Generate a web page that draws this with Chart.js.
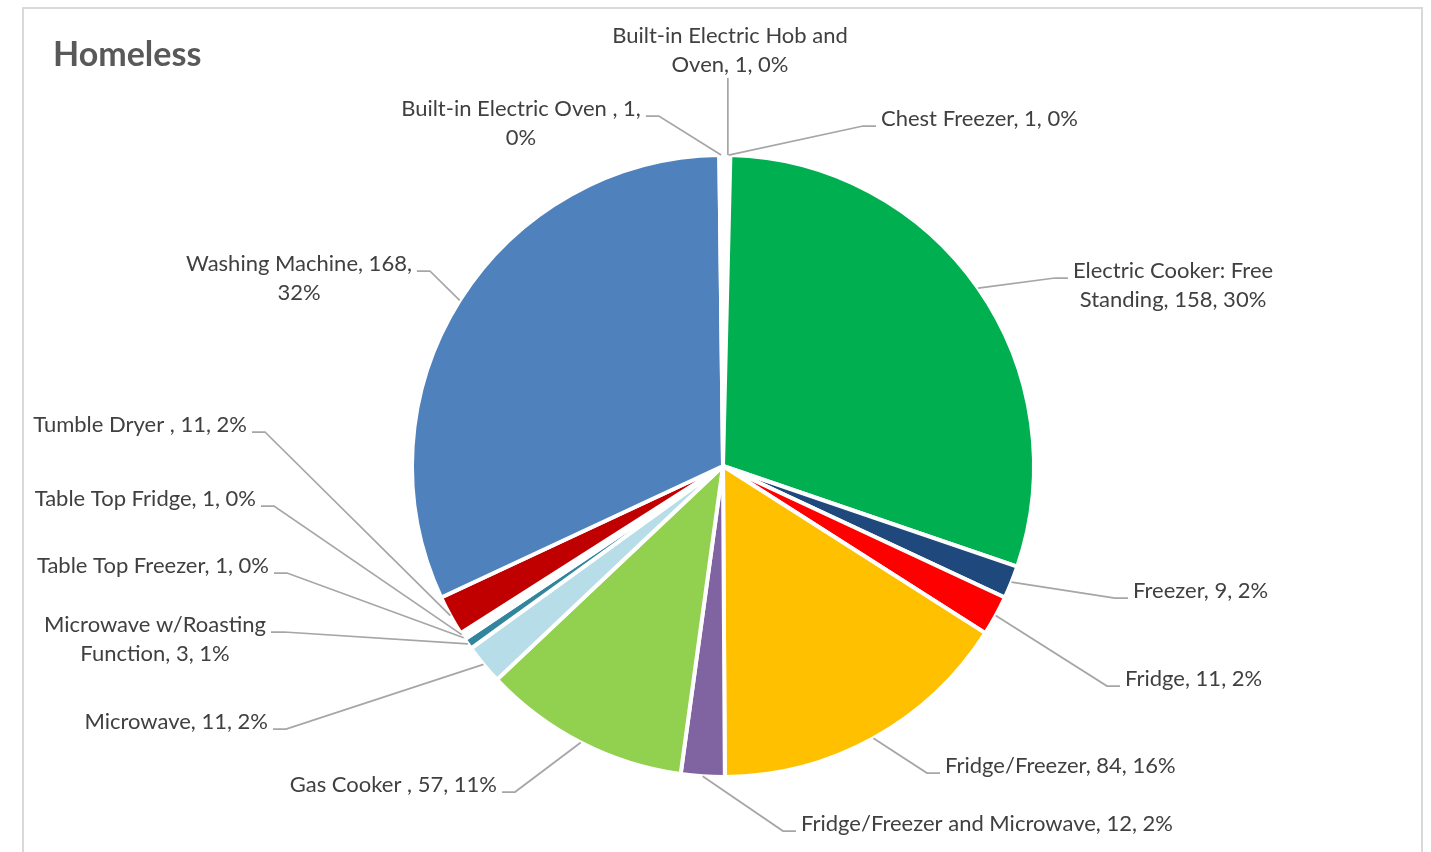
<!DOCTYPE html>
<html>
<head>
<meta charset="utf-8">
<title>Homeless</title>
<script src="https://cdn.jsdelivr.net/npm/chart.js@4/dist/chart.umd.min.js"></script>
<style>
  html, body { margin: 0; padding: 0; background: #fff; }
  #wrap { position: relative; width: 1431px; height: 852px; }
</style>
</head>
<body>
<div id="wrap"><canvas id="pie" width="1431" height="852"></canvas></div>
<script>
// appliance categories, clockwise from 12 o'clock
const categories = [
  "Built-in Electric Hob and Oven",
  "Chest Freezer",
  "Electric Cooker: Free Standing",
  "Freezer",
  "Fridge",
  "Fridge/Freezer",
  "Fridge/Freezer and Microwave",
  "Gas Cooker ",
  "Microwave",
  "Microwave w/Roasting Function",
  "Table Top Freezer",
  "Table Top Fridge",
  "Tumble Dryer ",
  "Washing Machine",
  "Built-in Electric Oven "
];
const counts = [1, 1, 158, 9, 11, 84, 12, 57, 11, 3, 1, 1, 11, 168, 1];
const sliceColors = [
  "#ffffff", "#ffffff", "#00b050", "#1f497d", "#ff0000", "#ffc000", "#8064a2",
  "#92d050", "#b7dee8", "#31859c", "#ffffff", "#ffffff", "#c00000", "#4f81bd", "#ffffff"
];

// label placement: text anchor, alignment, words on first line, leader side
const labelLayout = [
  { x: 730, y: 36, align: "center", brk: 4, side: "top" },
  { x: 881, y: 119, align: "left", side: "left" },
  { x: 1173, y: 271, align: "center", brk: 3, side: "left" },
  { x: 1133, y: 591, align: "left", side: "left" },
  { x: 1125, y: 679, align: "left", side: "left" },
  { x: 945, y: 766, align: "left", side: "left" },
  { x: 801, y: 824, align: "left", side: "left" },
  { x: 497, y: 785, align: "right", side: "right" },
  { x: 268, y: 722, align: "right", side: "right" },
  { x: 155, y: 625, align: "center", brk: 2, side: "right" },
  { x: 269, y: 566, align: "right", side: "right" },
  { x: 256, y: 499, align: "right", side: "right" },
  { x: 247, y: 425, align: "right", side: "right" },
  { x: 299, y: 264, align: "center", brk: 3, side: "right" },
  { x: 521, y: 109, align: "center", brk: 5, side: "right" }
];

const total = counts.reduce((a, b) => a + b, 0);
const LABEL_FONT = "22px Lato, 'Open Sans', sans-serif";
const LINE_H = 29;

function labelLines(i) {
  const pct = Math.round(counts[i] / total * 100);
  const text = categories[i] + ", " + counts[i] + ", " + pct + "%";
  const brk = labelLayout[i].brk;
  if (!brk) return [text];
  const words = text.split(" ");
  return [words.slice(0, brk).join(" "), words.slice(brk).join(" ")];
}

const framePlugin = {
  id: "frame",
  beforeDraw(chart) {
    const ctx = chart.ctx;
    ctx.save();
    ctx.strokeStyle = "#d9d9d9";
    ctx.lineWidth = 2;
    ctx.strokeRect(23, 8, 1399, 900);
    ctx.fillStyle = "#595959";
    ctx.font = "bold 34px Lato, 'Open Sans', sans-serif";
    ctx.textBaseline = "middle";
    ctx.fillText("Homeless", 53, 55);
    ctx.restore();
  }
};

const leaderPlugin = {
  id: "leaders",
  afterDatasetsDraw(chart) {
    const ctx = chart.ctx;
    const meta = chart.getDatasetMeta(0);
    ctx.save();
    ctx.font = LABEL_FONT;
    ctx.textBaseline = "middle";
    meta.data.forEach((arc, i) => {
      const p = arc.getProps(["x", "y", "startAngle", "endAngle", "outerRadius"], true);
      const mid = (p.startAngle + p.endAngle) / 2;
      const ax = p.x + Math.cos(mid) * p.outerRadius;
      const ay = p.y + Math.sin(mid) * p.outerRadius;
      const L = labelLayout[i];
      const lines = labelLines(i);
      const w0 = ctx.measureText(lines[0]).width;

      // edges of the first text line
      let left = L.x, right = L.x;
      if (L.align === "left") right = L.x + w0;
      else if (L.align === "right") left = L.x - w0;
      else { left = L.x - w0 / 2; right = L.x + w0 / 2; }

      ctx.strokeStyle = "#a6a6a6";
      ctx.lineWidth = 1.75;
      ctx.beginPath();
      if (L.side === "top") {
        const ey = L.y + LINE_H * (lines.length - 1) + 13;
        ctx.moveTo(ax + 3, ey);
        ctx.lineTo(ax + 3, ay);
      } else {
        const ey = L.y + 7;
        const ex = L.side === "left" ? left - 5 : right + 5;
        const kx = L.side === "left" ? ex - 13 : ex + 13;
        ctx.moveTo(ex, ey);
        ctx.lineTo(kx, ey);
        ctx.lineTo(ax, ay);
      }
      ctx.stroke();

      ctx.fillStyle = "#404040";
      ctx.textAlign = L.align;
      lines.forEach((ln, k) => ctx.fillText(ln, L.x, L.y + k * LINE_H));
    });
    ctx.restore();
  }
};

new Chart(document.getElementById("pie"), {
  type: "pie",
  data: {
    labels: categories,
    datasets: [{
      data: counts,
      backgroundColor: sliceColors,
      borderColor: "#ffffff",
      borderWidth: 4
    }]
  },
  options: {
    responsive: false,
    animation: false,
    layout: { padding: { left: 400, right: 385, top: 153, bottom: 73 } },
    plugins: {
      legend: { display: false },
      tooltip: { enabled: false }
    }
  },
  plugins: [framePlugin, leaderPlugin]
});
</script>
</body>
</html>
